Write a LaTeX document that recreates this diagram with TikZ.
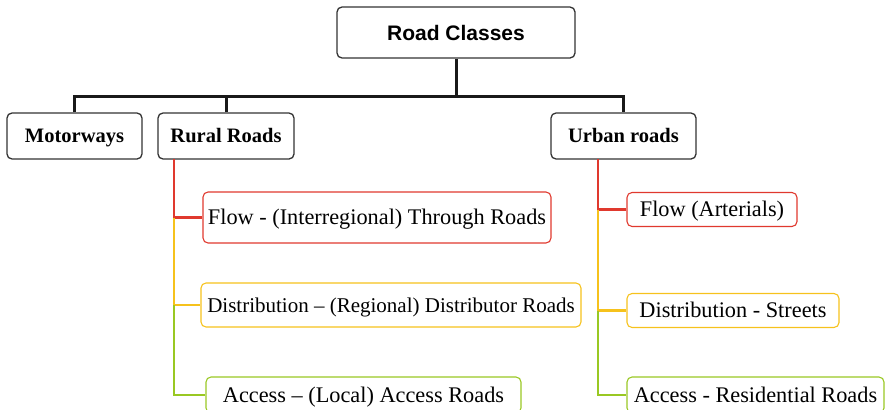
\documentclass[tikz,border=0pt]{standalone}
\usepackage{fontspec}
\setmainfont{Liberation Serif}
\newfontfamily\headfont{Liberation Sans}
\definecolor{cred}{HTML}{E0392E}
\definecolor{cyel}{HTML}{F6C21C}
\definecolor{cgrn}{HTML}{99C823}
\begin{document}
\begin{tikzpicture}[x=1pt,y=-1pt,
  box/.style={draw=black!80,line width=1.3pt,rounded corners=5pt,inner sep=0pt,text height=13.6pt,text depth=0pt},
  sub/.style={draw=#1,line width=1.1pt,rounded corners=5pt,inner sep=0pt,text height=14.6pt,text depth=0pt,font=\fontsize{22.3}{25}\selectfont},
  tree/.style={line width=3pt,black!90},
  stem/.style={line width=2.2pt,#1}]
\useasboundingbox (0,0) rectangle (887,410);
\node[box,text height=15pt,minimum width=238pt,minimum height=51pt,font=\headfont\bfseries\fontsize{21}{24}\selectfont] (root) at (456,32.5) {Road Classes};
\node[box,minimum width=135pt,minimum height=46pt,font=\bfseries\fontsize{20.5}{23}\selectfont] (mot) at (74.5,136) {Motorways};
\node[box,minimum width=136pt,minimum height=46pt,font=\bfseries\fontsize{20.5}{23}\selectfont] (rur) at (226,136) {Rural Roads};
\node[box,minimum width=145pt,minimum height=46pt,font=\bfseries\fontsize{20.5}{23}\selectfont] (urb) at (623.5,136) {Urban roads};
% rural children
\node[sub=cred,minimum width=348pt,minimum height=51pt] (rf) at (377,217.5) {Flow - (Interregional) Through Roads};
\node[sub=cyel,minimum width=380pt,minimum height=44pt,font=\fontsize{21}{24}\selectfont] (rd) at (391,305) {Distribution -- (Regional) Distributor Roads};
\node[sub=cgrn,minimum width=315pt,minimum height=36pt] (ra) at (363.5,395) {Access -- (Local) Access Roads};
% urban children
\node[sub=cred,minimum width=170pt,minimum height=34pt] (uf) at (712,209.5) {Flow (Arterials)};
\node[sub=cyel,minimum width=212pt,minimum height=34pt] (ud) at (733,310.5) {Distribution - Streets};
\node[sub=cgrn,minimum width=257pt,minimum height=36pt] (ua) at (755.5,395) {Access - Residential Roads};
% tree
\coordinate (j) at (456,96.5);
\draw[tree] (root.south) -- (j);
\draw[tree] (mot.north) |- (j) -| (urb.north);
\draw[tree] (rur.north) -- (rur.north |- j);
% rural stem
\coordinate (rs) at (174,159);
\draw[stem=cred] (rs) |- (rf.west);
\draw[stem=cyel] (rs |- rf.west) |- (rd.west);
\draw[stem=cgrn] (rs |- rd.west) |- (ra.west);
% urban stem
\coordinate (us) at (598,159);
\draw[stem=cred] (us) |- (uf.west);
\draw[stem=cyel] (us |- uf.west) |- (ud.west);
\draw[stem=cgrn] (us |- ud.west) |- (ua.west);
\end{tikzpicture}
\end{document}
